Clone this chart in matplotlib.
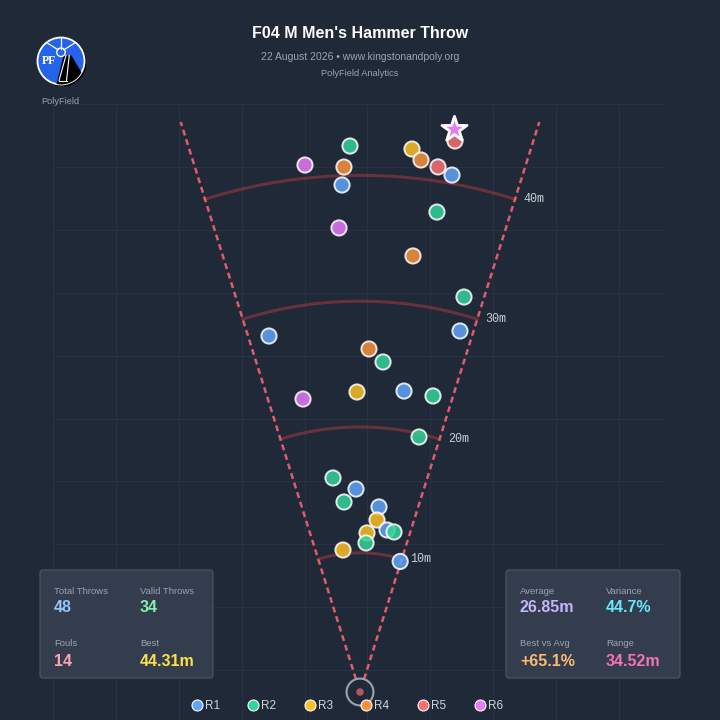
import numpy as np
import matplotlib.pyplot as plt
from matplotlib.patches import Circle, FancyBboxPatch, Polygon
from matplotlib.lines import Line2D

plt.rcParams['font.family'] = ['Liberation Sans', 'DejaVu Sans']

## data
rounds = ['R1', 'R2', 'R3', 'R4', 'R5', 'R6']
round_colors = ['#60a5fa', '#34d399', '#fbbf24', '#fb923c', '#f87171', '#e879f9']

# valid throws: round index, distance (m), angle off the centre line (deg, + = right)
throw_round = [1, 5, 3, 0, 2, 3, 4, 0, 4, 5, 1, 5, 3,
               1, 0, 0, 3, 1, 2, 0, 1, 5, 1,
               1, 0, 1, 0, 2, 0, 1, 2, 1, 2, 0]
throw_dist = [42.34, 41.05, 40.68, 39.26, 42.29, 41.50, 41.13, 40.67, 43.38, 44.31, 37.57, 35.86, 33.85,
              31.40, 28.71, 28.14, 26.21, 25.23, 22.78, 23.11, 23.17, 22.66, 19.74,
              16.08, 15.07, 14.09, 13.72, 12.67, 11.99, 11.94, 11.59, 10.79, 10.30, 9.79]
throw_angle = [-1.05, -5.96, -1.75, -2.03, 5.47, 6.54, 8.45, 10.09, 9.78, 9.48, 9.11, -2.59, 6.93,
               14.75, 15.48, -14.34, 1.50, 3.99, -0.57, 8.32, 13.85, -11.01, 13.03,
               -7.19, -1.13, -4.81, 5.86, 5.64, 9.46, 12.0, 2.52, 2.31, -6.83, 17.10]

arc_distances = [10, 20, 30, 40]

left_labels = ['Total Throws', 'Valid Throws', 'Fouls', 'Best']
left_values = ['48', '34', '14', '44.31m']
left_colors = ['#93c5fd', '#86efac', '#fda4af', '#fde047']
right_labels = ['Average', 'Variance', 'Best vs Avg', 'Range']
right_values = ['26.85m', '44.7%', '+65.1%', '34.52m']
right_colors = ['#c4b5fd', '#67e8f9', '#fdba74', '#f472b6']

title = "F04 M Men's Hammer Throw"
subtitle = "22 August 2026 \u2022 www.kingstonandpoly.org"
source = "PolyField Analytics"

## geometry
BG = '#1f2937'
CIRCLE_R = 1.0675          # hammer circle radius (m)
HALF = 34.92 / 2           # sector half angle
SECTOR_LEN = 47.5
S = 12.58                  # px per metre
CX, CY = 360, 692          # circle centre in px

fig = plt.figure(figsize=(7.2, 7.2), dpi=100, facecolor=BG)
ax = fig.add_axes([0, 0, 1, 1])
ax.set_facecolor(BG)
ax.set_xlim(-CX / S, (720 - CX) / S)
ax.set_ylim(-(720 - CY) / S, CY / S)
ax.axis('off')

# background grid, 5 m squares
gx0, gy0 = (53 - CX) / S, (CY - 104) / S
gx1 = (664 - CX) / S
for k in range(10):
    ax.vlines(gx0 + 5 * k, -(720 - CY) / S, gy0, color='#283242', lw=0.8, zorder=0)
    ax.hlines(gy0 - 5 * k, gx0, gx1, color='#283242', lw=0.8, zorder=0)

# sector lines
for sgn in (-1, 1):
    t = np.radians(sgn * HALF)
    ax.plot([CIRCLE_R * np.sin(t), SECTOR_LEN * np.sin(t)],
            [CIRCLE_R * np.cos(t), SECTOR_LEN * np.cos(t)],
            color='#e15b6a', lw=1.8, dashes=(2.4, 1.6), zorder=2)

# distance arcs
tt = np.radians(np.linspace(-HALF, HALF, 120))
for d in arc_distances:
    r = d + CIRCLE_R
    ax.plot(r * np.sin(tt), r * np.cos(tt), color='#ef4444', alpha=0.35, lw=2.2, zorder=1)
    ax.annotate(f'{d}m', xy=(r * np.sin(np.radians(HALF)), r * np.cos(np.radians(HALF))),
                xytext=(6, 0), textcoords='offset points', ha='left', va='center',
                fontsize=8.5, family='Liberation Mono', color='#c9ced6')

# hammer circle
ax.add_patch(Circle((0, 0), CIRCLE_R, fill=False, ec='#9ca3af', lw=1.5, zorder=3))
ax.add_patch(Circle((0, 0), 0.3, fc='#c25b6b', ec='none', alpha=0.9, zorder=3))

# throws
dist = np.array(throw_dist)
ang = np.radians(throw_angle)
rr = dist + CIRCLE_R
tx, ty = rr * np.sin(ang), rr * np.cos(ang)
best = int(np.argmax(dist))
mask = np.arange(len(dist)) != best
cols = [round_colors[i] for i in throw_round]
ax.scatter(tx[mask], ty[mask], s=120, c=[c for c, m in zip(cols, mask) if m],
           alpha=0.85, edgecolors='white', linewidths=1.4, zorder=5)
ax.scatter(tx[best], ty[best], s=360, marker='*', c=cols[best],
           edgecolors='white', linewidths=2.0, zorder=7)

## header
fig.text(0.5, 1 - 34 / 720, title, ha='center', va='center', fontsize=11.5,
         weight='bold', color='white')
fig.text(0.5, 1 - 57 / 720, subtitle, ha='center', va='center', fontsize=7.5, color='#9ca3af')
fig.text(0.5, 1 - 74 / 720, source, ha='center', va='center', fontsize=6.7, color='#9ca3af')

# logo
lg = fig.add_axes([36 / 720, 1 - 86 / 720, 50 / 720, 50 / 720])
lg.set_xlim(-1, 1)
lg.set_ylim(-1, 1)
lg.axis('off')
lg.add_patch(Circle((0.07, -0.07), 0.95, fc='black', ec='none'))
disc = Circle((0, 0), 0.94, fc='#2563eb', ec='white', lw=1.3)
lg.add_patch(disc)
lg.plot([0, 0], [0.5, 0.94], color='white', lw=0.9)
lg.plot([-0.12, -0.58], [0.45, 0.74], color='white', lw=0.9)
lg.plot([0.12, 0.58], [0.45, 0.74], color='white', lw=0.9)
track = Polygon([(0.1, 0.22), (0.42, 0.22), (0.9, -0.6), (0.2, -1.0), (-0.2, -1.0)],
                closed=True, fc='black', ec='none')
lg.add_patch(track)
track.set_clip_path(disc)
lg.plot([0.2, -0.08], [0.22, -0.78], color='white', lw=0.8)
lg.plot([0.33, 0.22], [0.22, -0.78], color='white', lw=0.8)
lg.plot([-0.08, 0.22], [-0.78, -0.78], color='white', lw=0.8)
lg.add_patch(Circle((0, 0.35), 0.17, fc='#2563eb', ec='white', lw=1.0))
lg.text(-0.47, -0.02, 'PF', ha='center', va='center', fontsize=8.5, weight='bold',
        family='Liberation Serif', color='white')
fig.text(60 / 720, 1 - 101 / 720, 'PolyField', ha='center', va='center', fontsize=6.6,
         color='#9ca3af')

## stat boxes
def stat_box(x0, x1, labels, values, colors):
    box = FancyBboxPatch((x0 / 720, 1 - 678 / 720), (x1 - x0) / 720, 108 / 720,
                         boxstyle='round,pad=0,rounding_size=0.004', transform=fig.transFigure,
                         fc='#374151', ec='#4b5563', lw=1, alpha=0.85)
    fig.add_artist(box)
    cols_x = [x0 + 14, x0 + 100]
    rows_y = [591, 644]
    for i, (lab, val, c) in enumerate(zip(labels, values, colors)):
        px, py = cols_x[i % 2], rows_y[i // 2]
        fig.text(px / 720, 1 - py / 720, lab, ha='left', va='center', fontsize=6.8, color='#9ca3af')
        fig.text(px / 720, 1 - (py + 17) / 720, val, ha='left', va='center', fontsize=11.5,
                 weight='bold', color=c)

stat_box(40, 213, left_labels, left_values, left_colors)
stat_box(506, 680, right_labels, right_values, right_colors)

## legend
handles = [Line2D([], [], marker='o', ls='', markersize=7.9, markerfacecolor=c,
                  markeredgecolor='white', markeredgewidth=0.8) for c in round_colors]
fig.legend(handles, rounds, loc='center', bbox_to_anchor=(347 / 720, 1 - 706 / 720), ncol=6,
           frameon=False, fontsize=8.5, labelcolor='#d1d5db', handlelength=0.93,
           handletextpad=0.2, columnspacing=2.39, borderpad=0)

fig.savefig('out.png', dpi=100, facecolor=BG)
